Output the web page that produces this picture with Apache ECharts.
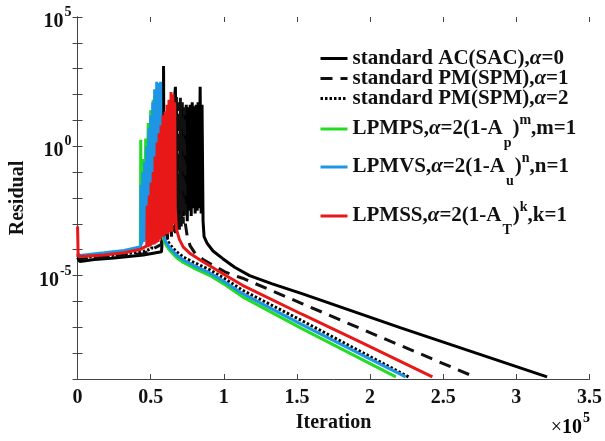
<!DOCTYPE html>
<html>
<head>
<meta charset="utf-8">
<title>Residual vs Iteration</title>
<script src="https://cdn.jsdelivr.net/npm/echarts@6/dist/echarts.min.js"></script>
<style>
  html, body { margin: 0; padding: 0; background: #fff; }
  #chart { width: 605px; height: 441px; }
</style>
</head>
<body>
<div id="chart"></div>
<script>
// ---- data -------------------------------------------------------------
// residual decades used for ticks, and the ones that get a label
const decadeTicks = [1e-9, 1e-8, 1e-7, 1e-6, 1e-5, 1e-4, 1e-3, 1e-2, 1e-1, 1, 10, 100, 1e3, 1e4, 1e5];
const decadeLabels = [1e-5, 1, 1e5];

const seriesNames = [
  'standard AC(SAC),α=0',
  'standard PM(SPM),α=1',
  'standard PM(SPM),α=2',
  'LPMPS,α=2(1-Ap)^m,m=1',
  'LPMVS,α=2(1-Au)^n,n=1',
  'LPMSS,α=2(1-AT)^k,k=1'
];
const legendTexts = [
  'standard AC(SAC),{i|α}=0',
  'standard PM(SPM),{i|α}=1',
  'standard PM(SPM),{i|α}=2',
  'LPMPS,{i|α}=2(1-A{sub|p}){sup|m},m=1',
  'LPMVS,{i|α}=2(1-A{sub|u}){sup|n},n=1',
  'LPMSS,{i|α}=2(1-A{sub|T}){sup|k},k=1'
];

// [iteration, residual]
const sacData = [
  [0, 5.0e-5], [1500, 3.5e-5], [11500, 4.2e-5], [23000, 4.7e-5], [45000, 6.3e-5], [55500, 8.0e-5], [57400, 8.3e-5],
  [58500, 1.0e-3], [58800, 1260], [59100, 3.2e-3], [60100, 3.2], [60800, 1.0e-3], [62200, 10], [62800, 6.3e-4],
  [64200, 16], [64900, 1.6e-3], [66200, 63], [66900, 200], [67600, 1.26e-3], [69600, 8.0e-4],
  [70300, 25], [70900, 1.6e-3], [71600, 32], [72300, 2.0e-3], [73000, 25], [73700, 2.5e-3], [74300, 40],
  [75000, 1.26e-3], [75700, 32], [76400, 3.2e-3], [77000, 40], [77700, 2.0e-3], [78400, 50], [79100, 4.0e-3],
  [79700, 35], [80400, 2.5e-3], [81100, 40], [81800, 3.2e-3], [82400, 50], [83100, 4.0e-3], [83800, 200],
  [84500, 2.5e-3], [85100, 40], [85800, 1.26e-3], [86500, 3.2e-4], [88500, 1.8e-4],
  [92600, 8.9e-5], [99300, 4.5e-5], [107400, 2.1e-5], [117600, 1.0e-5], [133100, 4.8e-6], [153400, 2.0e-6],
  [221000, 9.5e-8], [321000, 1.2e-9]
];
const spm1Data = [
  [0, 6.0e-5], [1500, 4.5e-5], [23000, 5.5e-5], [45000, 7.0e-5], [57400, 1.6e-4],
  [58100, 3.2e-2], [58800, 2.5e-4], [59500, 0.63], [60100, 3.2e-4], [60800, 3.2], [61500, 2.5e-4], [62200, 10],
  [62800, 4.0e-4], [63500, 25], [64200, 3.2e-4], [64900, 40], [65500, 5.0e-4], [66200, 63], [66900, 4.0e-4],
  [67600, 80], [68200, 6.3e-4], [68900, 50], [69600, 5.0e-4], [70300, 80], [70900, 8.0e-4], [71600, 50],
  [72300, 1.0e-3], [73000, 32], [73700, 1.0e-3],
  [75000, 3.2e-4], [77000, 1.4e-4], [80400, 7.1e-5], [85800, 4.2e-5], [92600, 2.5e-5], [100700, 1.4e-5],
  [107400, 1.0e-5], [112800, 7.9e-6], [153400, 8.3e-7], [193900, 8.7e-8], [271600, 1.2e-9]
];
const spm2Data = [
  [0, 6.8e-5], [1500, 5.0e-5], [23000, 6.0e-5], [45000, 8.5e-5], [50700, 1.1e-4],
  [51400, 0.1], [52000, 2.0e-4], [52700, 0.32], [53400, 2.5e-4], [54100, 1.0], [54700, 3.2e-4], [55400, 2.0],
  [56100, 3.2e-4], [56800, 3.2], [57400, 4.0e-4], [58100, 1.6], [58800, 4.5e-4],
  [60800, 2.5e-4], [63500, 1.5e-4], [67600, 8.3e-5], [72300, 5.2e-5], [79100, 3.3e-5], [90500, 1.66e-5],
  [99300, 8.5e-6], [112800, 2.7e-6], [153400, 1.8e-7], [226400, 1.2e-9]
];
const lpmpsData = [
  [0, 6.5e-5], [1500, 5.5e-5], [18200, 6.8e-5], [31800, 8.5e-5], [42900, 1.12e-4],
  [43200, 1.8], [43600, 2.0e-4], [44900, 0.32], [45600, 2.5e-4], [46600, 2.0], [47300, 3.2e-4], [48300, 8],
  [49000, 4.0e-4], [50000, 25], [50700, 5.0e-4], [51700, 63], [52400, 6.3e-4], [53000, 100], [53700, 1.0e-3],
  [54700, 126], [55700, 6.3e-4],
  [57400, 4.0e-4], [60800, 1.4e-4], [63500, 8.7e-5], [67600, 5.0e-5], [72300, 3.2e-5], [79100, 2.0e-5],
  [90500, 1.0e-5], [99300, 5.0e-6], [112800, 1.5e-6], [153400, 8.9e-8], [217600, 1.2e-9]
];
const lpmvsData = [
  [0, 7.0e-5], [1500, 6.0e-5], [18200, 7.6e-5], [31800, 9.3e-5], [43200, 1.3e-4],
  [43400, 3.2e-2], [43900, 1.6e-4], [44600, 0.1], [45300, 2.0e-4], [45900, 0.25], [46600, 2.5e-4], [47300, 1.0],
  [48000, 3.2e-4], [48700, 5], [49300, 4.0e-4], [50000, 16], [50700, 5.0e-4], [51400, 50], [52000, 6.3e-4],
  [52700, 160], [53400, 1.6e-3], [54100, 316], [54700, 3.2e-3], [55400, 280], [56100, 2.5e-3], [56800, 316],
  [57400, 5.0e-4],
  [58800, 3.5e-4], [60800, 1.8e-4], [63500, 1.1e-4], [67600, 6.3e-5], [72300, 4.0e-5], [79100, 2.5e-5],
  [90500, 1.26e-5], [99300, 6.3e-6], [112800, 2.0e-6], [153400, 1.26e-7], [224300, 1.2e-9]
];
const lpmssData = [
  [0, 8.0e-4], [400, 5.6e-5], [4700, 5.6e-5], [18200, 6.3e-5], [31800, 7.6e-5], [43200, 1.05e-4], [47300, 1.4e-4],
  [47600, 5.0e-3], [48300, 1.26e-4], [49000, 1.26e-2], [49700, 1.4e-4], [50300, 4.0e-2], [51000, 1.6e-4],
  [51700, 0.1], [52400, 1.6e-4], [53000, 0.4], [53700, 1.8e-4], [54400, 1.4], [55100, 2.0e-4], [55700, 3.2],
  [56400, 2.5e-4], [57100, 6.3], [57800, 3.2e-4], [58400, 16], [59100, 3.2e-4], [59800, 22], [60500, 4.0e-4],
  [61200, 40], [61800, 4.0e-4], [62500, 63], [63200, 5.0e-4], [63900, 126], [64500, 5.0e-4], [65200, 100],
  [65900, 1.0e-3], [66400, 50], [66800, 4.0e-3],
  [67600, 6.3e-4], [69600, 2.5e-4], [72300, 1.26e-4], [77000, 7.1e-5], [83800, 4.0e-5], [92600, 2.0e-5],
  [101400, 1.0e-5], [112800, 4.2e-6], [153400, 3.2e-7], [193900, 2.6e-8], [242600, 1.2e-9]
];

// ---- style ------------------------------------------------------------
const FONT = 'Liberation Serif';
const INK = '#111';
const AXIS = '#444';
const seriesData = [sacData, spm1Data, spm2Data, lpmpsData, lpmvsData, lpmssData];
const seriesColors = ['#000000', '#111111', '#000000', '#22dd22', '#1e96e6', '#e81818'];
const seriesDash = ['solid', [12, 8], [2.5, 2], 'solid', 'solid', 'solid'];
const legendTops = [48, 68, 88, 108, 146, 195];

// "10" sits a bit below the tick, the exponent above it
const powRich = {
  x: { fontFamily: FONT, fontSize: 20, color: INK, lineHeight: 30, verticalAlign: 'bottom' },
  b: { fontFamily: FONT, fontWeight: 'bold', fontSize: 20, color: INK, lineHeight: 30, verticalAlign: 'bottom' },
  s: { fontFamily: FONT, fontWeight: 'bold', fontSize: 14, color: INK, lineHeight: 14, height: 21, verticalAlign: 'top', padding: [0, 0, 0, 1] }
};
const legendRich = {
  i: { fontFamily: FONT, fontStyle: 'italic', fontSize: 21, color: INK },
  sup: { fontFamily: FONT, fontWeight: 'bold', fontSize: 14, color: INK, lineHeight: 13, padding: [5, 0, 0, 0], verticalAlign: 'top' },
  sub: { fontFamily: FONT, fontWeight: 'bold', fontSize: 14, color: INK, lineHeight: 13, padding: [0, 1, 0, 1], verticalAlign: 'bottom' }
};

function powLabel(v) {
  const e = Math.round(Math.log10(v));
  return '{b|10}{s|' + e + '}';
}

const chart = echarts.init(document.getElementById('chart'), null, { renderer: 'canvas' });

chart.setOption({
  animation: false,
  backgroundColor: '#fff',
  grid: { left: 73, right: 14, top: 17, bottom: 62 },
  xAxis: [
    {
      type: 'value', position: 'bottom', min: 0, max: 350000, interval: 50000,
      name: 'Iteration', nameLocation: 'middle', nameGap: 30,
      nameTextStyle: { fontFamily: FONT, fontWeight: 'bold', fontSize: 20, color: INK },
      axisLine: { lineStyle: { color: AXIS, width: 1 } },
      axisTick: { inside: true, length: 5, lineStyle: { color: AXIS } },
      axisLabel: {
        margin: 9, fontFamily: FONT, fontWeight: 'bold', fontSize: 20, color: INK,
        formatter: v => String(v / 1e5)
      },
      splitLine: { show: false }
    },
    {
      type: 'value', position: 'top', min: 0, max: 350000, interval: 50000,
      axisLine: { show: false },
      axisTick: { show: true, inside: true, length: 5, lineStyle: { color: AXIS } },
      axisLabel: { show: false },
      splitLine: { show: false }
    }
  ],
  yAxis: [
    {
      type: 'log', logBase: 10, position: 'left', min: 1e-9, max: 1e5,
      name: 'Residual', nameLocation: 'middle', nameGap: 43,
      nameTextStyle: { fontFamily: FONT, fontWeight: 'bold', fontSize: 20, color: INK },
      axisLine: { show: true, lineStyle: { color: AXIS, width: 1 } },
      axisTick: { show: true, inside: true, length: 5, lineStyle: { color: AXIS }, customValues: decadeTicks },
      axisLabel: { margin: 6, customValues: decadeLabels, formatter: powLabel, rich: powRich },
      splitLine: { show: false }
    },
    {
      type: 'log', logBase: 10, position: 'right', min: 1e-9, max: 1e5,
      axisLine: { show: true, lineStyle: { color: AXIS, width: 1 } },
      axisTick: { show: true, inside: true, length: 5, lineStyle: { color: AXIS }, customValues: decadeTicks },
      axisLabel: { show: false },
      splitLine: { show: false }
    }
  ],
  legend: seriesNames.map((name, i) => ({
    data: [name],
    left: 319,
    top: legendTops[i],
    padding: 0,
    itemWidth: 27,
    itemHeight: 14,
    selectedMode: false,
    itemStyle: { opacity: 0 },
    lineStyle: { width: 3 },
    formatter: () => legendTexts[i],
    textStyle: {
      fontFamily: FONT, fontWeight: 'bold', fontSize: 21, color: INK,
      lineHeight: i < 3 ? 20 : 42, rich: legendRich
    }
  })),
  graphic: [
    {
      type: 'text', right: 15, top: 408, silent: true,
      style: { text: '{x|×}{b|10}{s|5}', rich: powRich }
    }
  ],
  series: seriesData.map((d, i) => ({
    name: seriesNames[i],
    type: 'line',
    data: d,
    xAxisIndex: 0,
    yAxisIndex: 0,
    symbol: 'none',
    showSymbol: false,
    z: 2 + i,
    itemStyle: { color: seriesColors[i] },
    lineStyle: { width: 3, color: seriesColors[i], type: seriesDash[i], join: 'bevel' }
  }))
});
</script>
</body>
</html>
